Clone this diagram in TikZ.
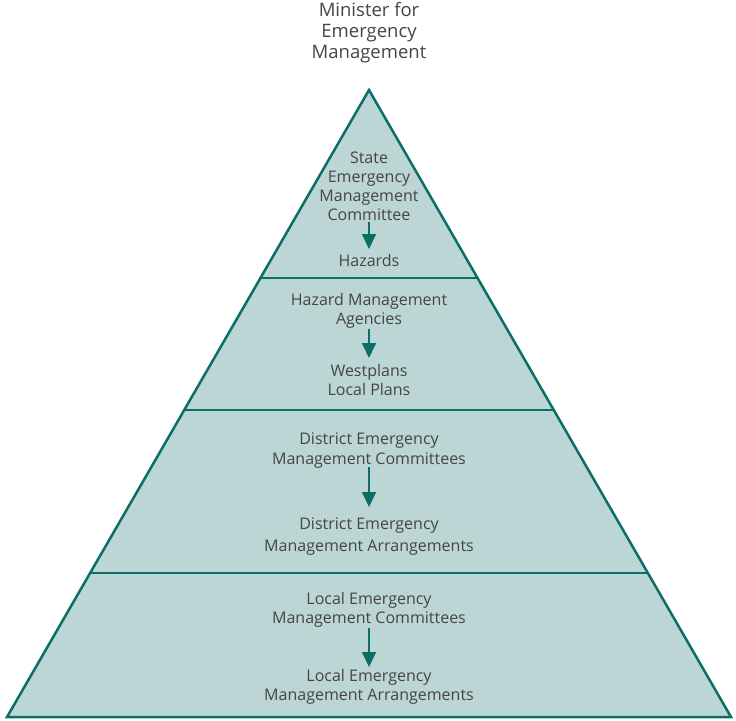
\documentclass[tikz,border=0pt]{standalone}
\usepackage{fontspec}
\setmainfont{Open Sans}
\usetikzlibrary{arrows.meta}
\definecolor{teal1}{HTML}{0B6E69}
\definecolor{fillc}{HTML}{BBD6D5}
\definecolor{txt}{HTML}{454545}
\begin{document}
\begin{tikzpicture}[x=1pt,y=-1pt,
  lbl/.style={text=txt,font=\fontsize{16}{19}\selectfont,align=center,inner sep=1pt},
  top/.style={text=txt,font=\fontsize{18.5}{21}\selectfont,align=center,inner sep=1pt},
  flow/.style={draw=teal1,line width=1.8pt,-{Triangle[length=15pt,width=14pt]},color=teal1},
  tier/.style={draw=teal1,line width=2.5pt}]
\useasboundingbox (0,0) rectangle (736,720);
% pyramid
\coordinate (apex) at (369,90);
\coordinate (bl) at (7,717);
\coordinate (br) at (731,717);
\fill[fillc] (apex) -- (br) -- (bl) -- cycle;
\coordinate (l1) at (261,278); \coordinate (r1) at (477,278);
\coordinate (l2) at (184,410); \coordinate (r2) at (554,410);
\coordinate (l3) at (90,573); \coordinate (r3) at (648,573);
\draw[tier] (l1) -- (r1);
\draw[tier] (l2) -- (r2);
\draw[tier] (l3) -- (r3);
\draw[tier,line join=miter] (apex) -- (br) -- (bl) -- cycle;
% texts
\node[top] (min) at (369,33) {Minister for\\Emergency\\Management};
\node[lbl] (semc) at (369,186) {State\\Emergency\\Management\\Committee};
\node[lbl] (haz) at (369,260) {Hazards};
\node[lbl] (hma) at (369,311) {Hazard Management\\Agencies};
\node[lbl] (west) at (369,380) {Westplans\\Local Plans};
\node[lbl,font=\fontsize{16}{20}\selectfont] (demc) at (369,451) {District Emergency\\Management Committees};
\node[lbl,font=\fontsize{16}{22}\selectfont] (dema) at (369,537) {District Emergency\\Management Arrangements};
\node[lbl] (lemc) at (369,610) {Local Emergency\\Management Committees};
\node[lbl] (lema) at (369,687) {Local Emergency\\Management Arrangements};
% arrows
\draw[flow] (semc.south |- 0,222) -- (haz.north |- 0,249);
\draw[flow] (hma.south |- 0,329) -- (west.north |- 0,358);
\draw[flow] (demc.south |- 0,467) -- (dema.north |- 0,507);
\draw[flow] (lemc.south |- 0,628) -- (lema.north |- 0,667);
\end{tikzpicture}
\end{document}
